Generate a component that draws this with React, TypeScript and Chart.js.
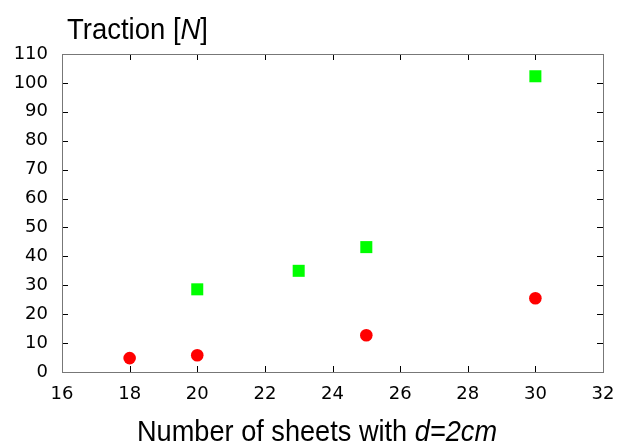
import React, { useEffect, useRef } from "react";
import { Chart, registerables } from "chart.js";

Chart.register(...registerables);

const sheetsGreen = [20, 23, 25, 30];
const tractionGreen = [28.6, 35, 43.2, 102.3];
const sheetsRed = [18, 20, 25, 30];
const tractionRed = [4.8, 5.8, 12.7, 25.5];

const xMin = 16;
const xMax = 32;
const xStep = 2;
const yMin = 0;
const yMax = 110;
const yStep = 10;

const yTitleRuns = [
  { text: "Traction [", italic: false },
  { text: "N", italic: true },
  { text: "]", italic: false },
];
const xTitleRuns = [
  { text: "Number of sheets with ", italic: false },
  { text: "d=2cm", italic: true },
];

const TITLE_FAMILY = '"Liberation Sans", sans-serif';
const TICK_FONT = '"DejaVu Sans", sans-serif';

function drawRuns(
  ctx: CanvasRenderingContext2D,
  runs: { text: string; italic: boolean }[],
  x: number,
  y: number,
  size: number,
  targetWidth: number,
  align: "left" | "center"
) {
  const fontFor = (it: boolean) => `${it ? "italic " : ""}${size}px ${TITLE_FAMILY}`;
  let total = 0;
  for (const r of runs) {
    ctx.font = fontFor(r.italic);
    total += ctx.measureText(r.text).width;
  }
  const sx = targetWidth / total;
  const startX = align === "center" ? x - targetWidth / 2 : x;
  ctx.save();
  ctx.translate(startX, y);
  ctx.scale(sx, 1);
  ctx.textBaseline = "alphabetic";
  ctx.textAlign = "left";
  ctx.fillStyle = "#000";
  let cx = 0;
  for (const r of runs) {
    ctx.font = fontFor(r.italic);
    ctx.fillText(r.text, cx, 0);
    cx += ctx.measureText(r.text).width;
  }
  ctx.restore();
}

const framePlugin = {
  id: "frame",
  afterDatasetsDraw(chart: any) {
    const ctx: CanvasRenderingContext2D = chart.ctx;
    const { left, right, top, bottom } = chart.chartArea;
    const xs = chart.scales.x;
    const ys = chart.scales.y;
    ctx.save();
    ctx.lineWidth = 1;
    ctx.strokeStyle = "#000";
    const tl = 6;
    ctx.beginPath();
    for (const t of xs.ticks) {
      const px = Math.round(xs.getPixelForValue(t.value)) + 0.5;
      ctx.moveTo(px, bottom);
      ctx.lineTo(px, bottom - tl);
      ctx.moveTo(px, top);
      ctx.lineTo(px, top + tl);
    }
    for (const t of ys.ticks) {
      const py = Math.round(ys.getPixelForValue(t.value)) + 0.5;
      ctx.moveTo(left, py);
      ctx.lineTo(left + tl, py);
      ctx.moveTo(right, py);
      ctx.lineTo(right - tl, py);
    }
    ctx.stroke();
    ctx.strokeStyle = "#777";
    ctx.strokeRect(Math.round(left) + 0.5, Math.round(top) + 0.5, Math.round(right - left), Math.round(bottom - top));
    ctx.restore();
  },
  afterDraw(chart: any) {
    const ctx: CanvasRenderingContext2D = chart.ctx;
    drawRuns(ctx, yTitleRuns, 67, 39, 30, 141, "left");
    drawRuns(ctx, xTitleRuns, 317, 441, 29, 360, "center");
  },
};

export default function App() {
  const ref = useRef<HTMLCanvasElement | null>(null);
  useEffect(() => {
    if (!ref.current) return;
    const chart = new Chart(ref.current, {
      type: "scatter",
      data: {
        datasets: [
          {
            label: "green",
            data: sheetsGreen.map((x, i) => ({ x, y: tractionGreen[i] })),
            pointStyle: "rect",
            pointRadius: 8.5,
            pointHoverRadius: 8.5,
            backgroundColor: "#00ff00",
            borderColor: "#00ff00",
            borderWidth: 0,
          },
          {
            label: "red",
            data: sheetsRed.map((x, i) => ({ x, y: tractionRed[i] })),
            pointStyle: "circle",
            pointRadius: 6.3,
            pointHoverRadius: 6.3,
            backgroundColor: "#ff0000",
            borderColor: "#ff0000",
            borderWidth: 0,
          },
        ],
      },
      options: {
        animation: false,
        responsive: false,
        devicePixelRatio: 1,
        layout: { padding: { left: 0, top: 54, right: 20, bottom: 0 } },
        plugins: { legend: { display: false }, tooltip: { enabled: false }, title: { display: false } },
        scales: {
          x: {
            type: "linear",
            min: xMin,
            max: xMax,
            ticks: { stepSize: xStep, padding: 12, color: "#000", font: { family: TICK_FONT, size: 18 }, maxRotation: 0 },
            grid: { display: false, drawTicks: false },
            border: { display: false },
            afterFit: (s: any) => {
              s.height = 72;
              s.paddingLeft = 0;
              s.paddingRight = 0;
            },
          },
          y: {
            type: "linear",
            min: yMin,
            max: yMax,
            ticks: { stepSize: yStep, padding: 14, color: "#000", font: { family: TICK_FONT, size: 18 } },
            grid: { display: false, drawTicks: false },
            border: { display: false },
            afterFit: (s: any) => {
              s.width = 62;
              s.paddingTop = 0;
              s.paddingBottom = 0;
            },
          },
        },
      },
      plugins: [framePlugin],
    } as any);
    return () => chart.destroy();
  }, []);
  return (
    <div style={{ position: "absolute", left: 0, top: 0, width: 623, height: 444, background: "#fff" }}>
      <canvas ref={ref} width={623} height={444} style={{ width: 623, height: 444 }} />
    </div>
  );
}
